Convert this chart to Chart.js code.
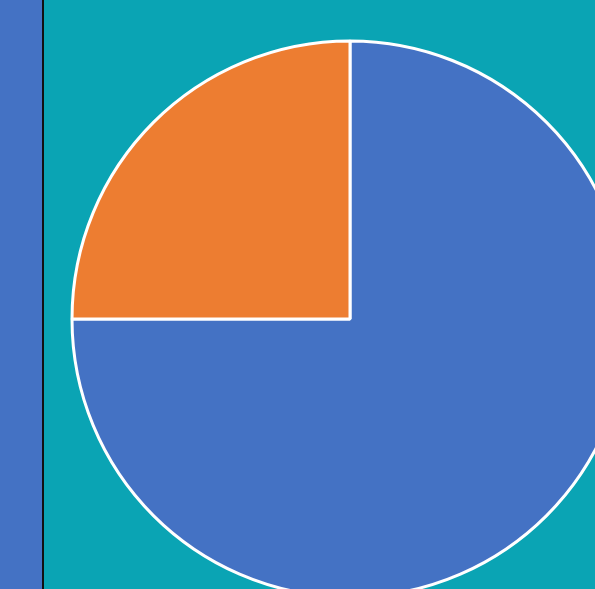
<!DOCTYPE html>
<html>
<head>
<meta charset="utf-8">
<script src="https://cdn.jsdelivr.net/npm/chart.js@4/dist/chart.umd.min.js"></script>
<style>
  html, body { margin: 0; padding: 0; width: 595px; height: 589px; overflow: hidden; background: #0aa4b4; }
  #strip { position: absolute; left: 0; top: 0; width: 42px; height: 589px; background: #4472c4; }
  #rule { position: absolute; left: 42px; top: 0; width: 2px; height: 589px; background: #111111; }
  #wrap { position: absolute; left: 50px; top: 19px; width: 600px; height: 600px; }
</style>
</head>
<body>
<div id="strip"></div>
<div id="rule"></div>
<div id="wrap"><canvas id="c" width="600" height="600"></canvas></div>
<script>
const categories = ["Series 1", "Series 2"];
const values = [75, 25];
const colors = ["#4472c4", "#ed7d31"];

new Chart(document.getElementById("c"), {
  type: "pie",
  data: {
    labels: categories,
    datasets: [{
      data: values,
      backgroundColor: colors,
      borderColor: "#ffffff",
      borderWidth: 3
    }]
  },
  options: {
    responsive: false,
    animation: false,
    radius: 278,
    layout: { padding: 0 },
    plugins: { legend: { display: false }, tooltip: { enabled: false } }
  }
});
</script>
</body>
</html>
